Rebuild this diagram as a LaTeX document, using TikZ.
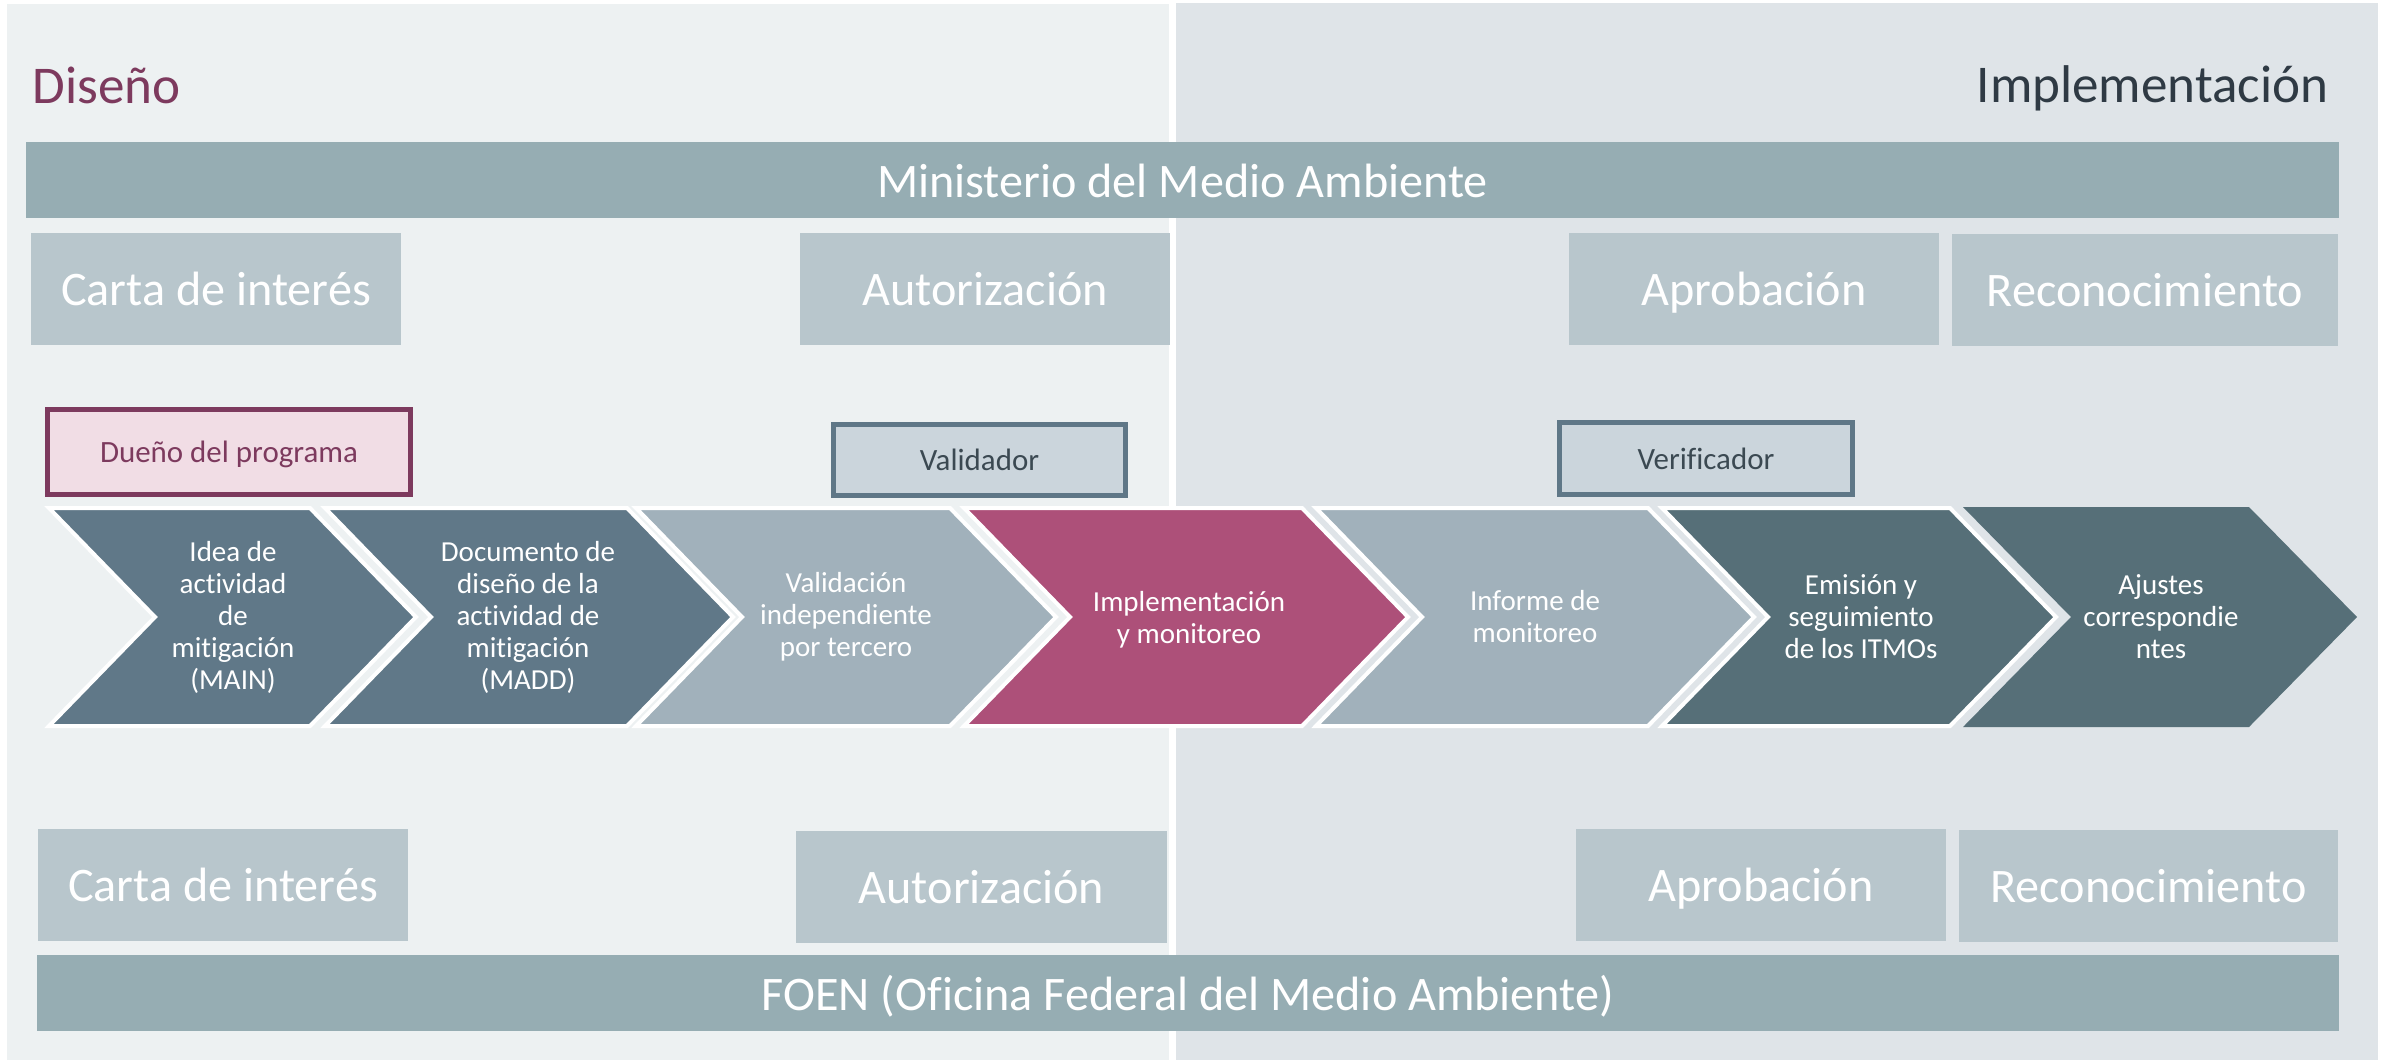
\documentclass[tikz,border=0pt]{standalone}
\usepackage{fontspec}
\setmainfont{Carlito}[Ligatures=NoCommon]
\usepackage{tikz}
\definecolor{bgleft}{RGB}{237,241,242}
\definecolor{bgright}{RGB}{223,228,232}
\definecolor{barcolor}{RGB}{150,173,179}
\definecolor{boxcolor}{RGB}{184,198,204}
\definecolor{ownercolor}{RGB}{125,58,94}
\definecolor{ownerfill}{RGB}{241,221,229}
\definecolor{roleline}{RGB}{95,119,135}
\definecolor{rolefill}{RGB}{203,213,220}
\definecolor{roletext}{RGB}{59,73,82}
\definecolor{stepdark}{RGB}{96,120,136}
\definecolor{steplight}{RGB}{161,177,187}
\definecolor{stepmain}{RGB}{173,80,121}
\definecolor{stepteal}{RGB}{86,111,120}
\definecolor{headtext}{RGB}{47,58,68}
\tikzset{
  bar/.style={fill=barcolor,text=white,minimum height=0.76cm,inner sep=0pt,
    text height=0.44cm,text depth=0.10cm,font=\fontsize{13.7}{16}\selectfont},
  entity/.style={fill=boxcolor,text=white,minimum width=3.70cm,minimum height=1.12cm,inner sep=0pt,
    text height=0.42cm,text depth=0.10cm,font=\fontsize{13.7}{16}\selectfont},
  role/.style={draw=roleline,fill=rolefill,text=roletext,line width=0.05cm,
    minimum width=2.92cm,minimum height=0.71cm,inner sep=0pt,
    text height=0.26cm,text depth=0.05cm,font=\fontsize{8.8}{10}\selectfont},
  ownerbox/.style={role,draw=ownercolor,fill=ownerfill,text=ownercolor,minimum width=3.63cm,minimum height=0.85cm},
  steptext/.style={text=white,align=center,inner sep=0pt,font=\fontsize{8.25}{9.1}\selectfont},
  headline/.style={inner sep=0pt,font=\fontsize{15.1}{18}\selectfont}
}
\begin{document}
\begin{tikzpicture}[x=0.01cm,y=-0.01cm]
            \useasboundingbox (0,0) rectangle (2381,1062);
            \fill[white] (0,0) rectangle (2381,1062);
            \fill[bgleft] (7,4) rectangle (1169,1060);
            \fill[bgright] (1176,3) rectangle (2378,1060);
            \node[headline,anchor=base west,text=ownercolor] (diseno) at (32,103) {Diseño};
            \node[headline,anchor=base east,text=headtext] (implem) at (2329,102) {Implementación};
            \node[bar,minimum width=23.11cm] (mma) at (1182.5,180) {Ministerio del Medio Ambiente};
            \node[entity] (cartatop) at (216,289) {Carta de interés};
            \node[entity] (auttop) at (985,289) {Autorización};
            \node[entity] (aprtop) at (1754,289) {Aprobación};
            \node[entity,minimum width=3.86cm] (rectop) at (2145,290) {Reconocimiento};
            \node[ownerbox] (dueno) at (229,452) {Dueño del programa};
            \node[role] (validador) at (979.5,460) {Validador};
            \node[role,minimum height=0.72cm] (verificador) at (1706,458.5) {Verificador};
            \foreach \xl/\xr/\col in {49/310/stepdark,325/627/stepdark,636/950/steplight,964/1302/stepmain,1316/1648/steplight,1662/1950/stepteal}
              \filldraw[fill=\col,draw=white,line width=0.04cm] (\xl,508) -- (\xr,508) -- ({\xr+106},617) -- (\xr,726) -- (\xl,726) -- ({\xl+106},617) -- cycle;
            \fill[stepteal] (1963,507) -- (2249,507) -- (2357,617) -- (2249,727) -- (1963,727) -- (2071,617) -- cycle;
            \node[steptext] (main) at (233,617) {Idea de\\actividad\\de\\mitigación\\(MAIN)};
            \node[steptext] (madd) at (528,617) {Documento de\\diseño de la\\actividad de\\mitigación\\(MADD)};
            \node[steptext] (validacion) at (846,617) {Validación\\independiente\\por tercero};
            \node[steptext] (monitoreo) at (1189,620) {Implementación\\y monitoreo};
            \node[steptext] (informe) at (1535,617) {Informe de\\monitoreo};
            \node[steptext] (emision) at (1861,617) {Emisión y\\seguimiento\\de los ITMOs};
            \node[steptext] (ajustes) at (2161,617) {Ajustes\\correspondie\\ntes};
            \node[entity] (cartabot) at (223,885) {Carta de interés};
            \node[entity,minimum width=3.71cm] (autbot) at (981.5,887) {Autorización};
            \node[entity] (aprbot) at (1761,885) {Aprobación};
            \node[entity,minimum width=3.79cm] (recbot) at (2148.5,886) {Reconocimiento};
            \node[bar,minimum width=23.00cm] (foen) at (1188,993) {FOEN (Oficina Federal del Medio Ambiente)};
        \end{tikzpicture}
\end{document}
